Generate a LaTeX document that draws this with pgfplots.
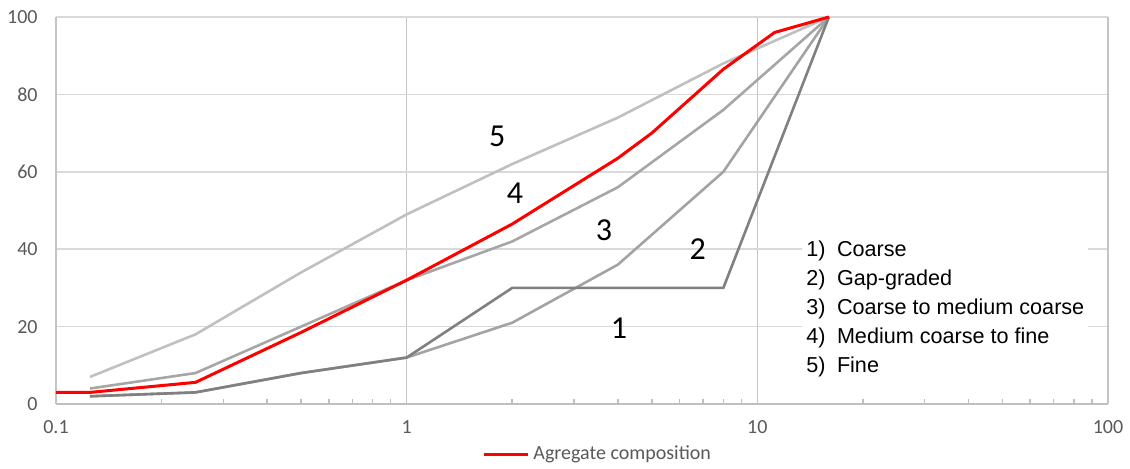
\documentclass[border=0pt]{standalone}
\usepackage{fontspec}
\setmainfont{Carlito}
\newfontfamily\arial{Liberation Sans}
\usepackage{pgfplots}
\pgfplotsset{compat=1.18}
\definecolor{gridh}{HTML}{D9D9D9}
\definecolor{gridv}{HTML}{C4C4C4}
\definecolor{axgray}{HTML}{BFBFBF}
\definecolor{lbl}{HTML}{595959}
\definecolor{cfine}{HTML}{C0C0C0}
\definecolor{cmid}{HTML}{A6A6A6}
\definecolor{ccoarse}{HTML}{A3A3A3}
\definecolor{cgap}{HTML}{808080}
\definecolor{cred}{HTML}{FF0000}
\begin{document}
\begin{tikzpicture}
\begin{axis}[
  at={(0,0)}, anchor=south west,
  scale only axis, width=526pt, height=193.5pt,
  xmode=log, xmin=0.1, xmax=100, ymin=0, ymax=100,
  xtick={1,10}, xticklabels={1,10},
  extra x ticks={0.1,100}, extra x tick labels={0.1,100},
  extra x tick style={grid style={color=gridh, line width=0.75pt}},
  minor xtick={0.2,0.3,0.4,0.5,0.6,0.7,0.8,0.9,2,3,4,5,6,7,8,9,20,30,40,50,60,70,80,90},
  ytick={0,20,40,60,80,100},
  xmajorgrids, ymajorgrids,
  x grid style={color=gridv, line width=0.75pt},
  y grid style={color=gridh, line width=0.75pt},
  axis x line*=bottom, axis y line*=left,
  x axis line style={color=axgray, line width=0.75pt, -},
  y axis line style={draw=none},
  major tick length=0pt, minor tick length=2.5pt, tick align=inside,
  minor x tick style={color=axgray, line width=0.75pt},
  ticklabel style={font=\fontsize{10}{12}\selectfont, text=lbl},
  /pgf/number format/assume math mode=true,
  xticklabel style={inner sep=0pt, yshift=-8pt},
  yticklabel style={inner sep=0pt, xshift=-9pt},
  clip=false,
  legend style={draw=none, fill=none, at={(0.4050,-0.1292)}, anchor=west,
    inner sep=0pt, font=\fontsize{10}{12}\selectfont, text=lbl},
  legend cell align=left,
  legend image code/.code={\draw[#1] (0pt,0pt) -- (22pt,0pt);},
]
% 5) Fine
\addplot[color=cfine, line width=1.3pt, forget plot] coordinates {
 (0.125,7) (0.25,18) (0.5,34) (1,49) (2,62) (4,74) (8,88) (16,100)};
% boundary between 3 and 4
\addplot[color=cmid, line width=1.3pt, forget plot] coordinates {
 (0.125,4) (0.25,8) (0.5,20) (1,32) (2,42) (4,56) (8,76) (16,100)};
% coarse boundary
\addplot[color=ccoarse, line width=1.3pt, forget plot] coordinates {
 (0.125,2) (0.25,3) (0.5,8) (1,12) (2,21) (4,36) (8,60) (16,100)};
% gap-graded
\addplot[color=cgap, line width=1.3pt, forget plot] coordinates {
 (0.125,2) (0.25,3) (0.5,8) (1,12) (2,30) (4,30) (8,30) (16,100)};
% aggregate composition
\addplot[color=cred, line width=1.5pt] coordinates {
 (0.1,3) (0.125,3) (0.25,5.6) (0.5,18.5) (1,32) (2,46.5) (4,63.5) (5,70) (8,86.5) (11.2,96) (16,100)};
\addlegendentry{Agregate composition}

\node[font=\fontsize{16}{19}\selectfont] at (axis cs:1.812,69.1) {5};
\node[font=\fontsize{16}{19}\selectfont] at (axis cs:2.036,54.4) {4};
\node[font=\fontsize{16}{19}\selectfont] at (axis cs:3.652,45.0) {3};
\node[font=\fontsize{16}{19}\selectfont] at (axis cs:6.757,40.0) {2};
\node[font=\fontsize{16}{19}\selectfont] at (axis cs:4.030,19.5) {1};

\node[fill=white, inner xsep=2pt, inner ysep=3pt, anchor=west,
      font=\arial\fontsize{10.8}{14.5}\selectfont]
  at (axis cs:13.40,24.5) {%
  \begin{tabular}{@{}p{15.35pt}@{}l@{}}
  1) & Coarse\\
  2) & Gap-graded\\
  3) & Coarse to medium coarse\\
  4) & Medium coarse to fine\\
  5) & Fine
  \end{tabular}};
\end{axis}
\pgfresetboundingbox
\path[use as bounding box] (-28pt,-32pt) rectangle (537pt,202pt);
\end{tikzpicture}
\end{document}
